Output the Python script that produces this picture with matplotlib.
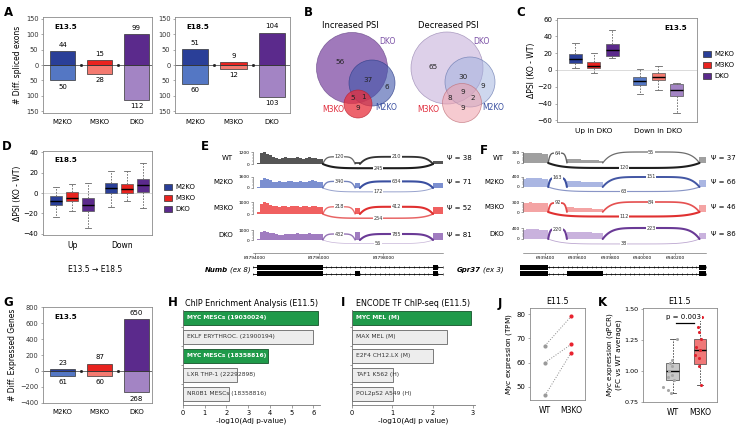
import numpy as np
import matplotlib.pyplot as plt
from matplotlib.patches import Circle, Patch

# ---------------- data ----------------
groups = ['M2KO', 'M3KO', 'DKO']
a135_up = [44, 15, 99]
a135_dn = [50, 28, 112]
a185_up = [51, 9, 104]
a185_dn = [60, 12, 103]

# venn counts
inc_counts = [56, 37, 6, 5, 1, 9]
dec_counts = [65, 30, 9, 9, 8, 2, 9]

# box stats (whislo, q1, med, q3, whishi)
c_up = [(2, 8, 13, 19, 32), (-4, 2, 5, 10, 20), (14, 17, 24, 31, 48)]
c_dn = [(-29, -18, -13, -8, 1), (-24, -12, -8, -3, 5), (-51, -31, -24, -17, -15)]
d_up = [(-23, -12, -8, -3, 6), (-18, -8, -5, 1, 9), (-34, -18, -12, -5, 10)]
d_dn = [(-14, 0, 5, 10, 21), (-8, 0, 4, 9, 21), (-15, 1, 8, 14, 29)]

g_up = [23, 87, 650]
g_dn = [61, 60, 268]

h_labels = ['MYC MESCs (19030024)', 'EKLF ERYTHROC. (21900194)', 'MYC MESCs (18358816)',
            'LXR THP-1 (22292898)', 'NR0B1 MESCs (18358816)']
h_vals = [6.2, 6.0, 3.9, 2.5, 2.1]
h_green = [True, False, True, False, False]

i_labels = ['MYC MEL (M)', 'MAX MEL (M)', 'E2F4 CH12.LX (M)', 'TAF1 K562 (H)', 'POL2pS2 A549 (H)']
i_vals = [2.95, 2.35, 2.02, 1.02, 1.02]
i_green = [True, False, False, False, False]

j_wt = [67, 60, 46.5]
j_m3 = [79, 67.5, 64]

k_wt_stats = (0.82, 0.93, 1.0, 1.065, 1.26)
k_m3_stats = (0.89, 1.055, 1.165, 1.255, 1.43)
k_wt_pts = [1.26, 1.09, 1.06, 1.04, 1.0, 0.97, 0.95, 0.93, 0.87, 0.85, 0.82]
k_m3_pts = [1.43, 1.35, 1.31, 1.26, 1.19, 1.17, 1.13, 1.10, 1.04, 0.89]
k_wt_jit = [0.15, -0.02, -0.1, -0.02, -0.15, -0.05, -0.2, 0.05, -0.38, -0.2, -0.07]
k_m3_jit = [0.08, -0.09, -0.05, 0.03, -0.15, 0.0, -0.18, -0.03, -0.05, 0.03]

tracks = ['WT', 'M2KO', 'M3KO', 'DKO']
# Numb (exon 8) sashimi
numb_ex1 = (83794080, 83796120)
numb_skip = (83797120, 83797270)
numb_last = (83799540, 83799850)
numb_ymax = [1200, 1600, 1000, 1000]
numb_cov1 = [
    [150, 1100, 1200, 1050, 900, 700, 650, 550, 600, 700, 650, 600, 650, 700, 600, 550, 650, 700, 600, 650, 550, 500],
    [200, 1200, 1450, 1300, 1100, 900, 850, 1000, 900, 800, 950, 1000, 850, 900, 1050, 900, 850, 1000, 1100, 950, 850, 800],
    [150, 850, 1000, 900, 750, 650, 700, 600, 650, 700, 600, 650, 700, 650, 600, 700, 650, 600, 700, 650, 600, 550],
    [150, 800, 950, 850, 750, 700, 650, 550, 500, 600, 650, 600, 650, 700, 650, 600, 650, 700, 650, 600, 650, 600]]
numb_cov_skip = [[250], [700], [500], [850]]
numb_cov_last = [[350], [700], [600], [700]]
numb_j1 = [120, 340, 218, 432]
numb_j2 = [210, 634, 412, 785]
numb_jskip = [245, 172, 254, 56]
numb_psi = ['Ψ = 38', 'Ψ = 71', 'Ψ = 52', 'Ψ = 81']

# Gpr37 (exon 3) sashimi
gpr_ex1 = (6939265, 6939420)
gpr_mid = (6939535, 6939755)
gpr_last = (6940350, 6940390)
gpr_ymax = [300, 400, 300, 400]
gpr_cov1 = [[260, 275, 280, 275, 270, 265, 255, 250],
            [330, 350, 355, 350, 345, 340, 335, 330],
            [270, 285, 290, 285, 280, 275, 270, 265],
            [340, 360, 365, 360, 350, 345, 340, 330]]
gpr_cov_mid = [[120, 110, 105, 100, 95, 90, 85, 80, 75, 60],
               [240, 230, 225, 220, 215, 210, 205, 200, 195, 190],
               [150, 140, 135, 130, 125, 115, 110, 105, 100, 95],
               [260, 255, 250, 250, 245, 240, 240, 235, 235, 230]]
gpr_cov_last = [[160], [260], [210], [210]]
gpr_j1 = [64, 163, 92, 220]
gpr_j2 = [55, 151, 84, 223]
gpr_jskip = [120, 63, 112, 38]
gpr_psi = ['Ψ = 37', 'Ψ = 66', 'Ψ = 46', 'Ψ = 86']

# ---------------- style ----------------
plt.rcParams['font.family'] = ['DejaVu Sans']
plt.rcParams['font.size'] = 5
plt.rcParams['axes.linewidth'] = 0.6
plt.rcParams['xtick.major.size'] = 1.8
plt.rcParams['ytick.major.size'] = 1.8
plt.rcParams['xtick.major.width'] = 0.5
plt.rcParams['ytick.major.width'] = 0.5
plt.rcParams['xtick.major.pad'] = 1.5
plt.rcParams['ytick.major.pad'] = 1.5

up_cols = ['#2a3f98', '#e8231f', '#5b2a8c']
dn_cols = ['#5477c4', '#f47a70', '#a384c4']
arc_cols = ['#1e1e1e', '#3a4fa0', '#e03030', '#6a3a96']
cov_e = ['#555555', '#7b8fd0', '#f06060', '#a07cc0']
cov_f = ['#a0a0a0', '#aab6e2', '#f4a4a4', '#c9b2dd']
frame = '#8a8a8a'

W, H = 740, 430
fig = plt.figure(figsize=(7.4, 4.3), dpi=100)


def axpx(x0, y0, x1, y1):
    return fig.add_axes([x0 / W, 1 - y1 / H, (x1 - x0) / W, (y1 - y0) / H])


def ftxt(x, y, s, **kw):
    return fig.text(x / W, 1 - y / H, s, **kw)


def set_frame(ax, col=frame):
    for s in ax.spines.values():
        s.set_color(col)


for lab, x, y in [('A', 8, 12), ('B', 308, 12), ('C', 521, 13), ('D', 7, 147), ('E', 205, 147),
                  ('F', 484, 150), ('G', 8, 303), ('H', 173, 303), ('I', 343, 303), ('J', 500, 303),
                  ('K', 602, 303)]:
    ftxt(x, y, lab, fontsize=8.5, fontweight='bold', ha='center', va='center')


# ---------------- A / G ----------------
def updown(ax, up, dn, ylim, yticks, stage, absfmt, off=2):
    x = np.arange(3)
    ax.bar(x, up, width=0.68, color=up_cols, edgecolor='#333333', lw=0.5)
    ax.bar(x, -np.array(dn), width=0.68, color=dn_cols, edgecolor='#333333', lw=0.5)
    ax.axhline(0, color='#333333', lw=0.5)
    ax.plot([0.5, 1.5], [0, 0], ls='none', marker='s', ms=1.0, color='#222222')
    for i in range(3):
        ax.annotate(str(up[i]), (i, up[i]), xytext=(0, 2.5), textcoords='offset points',
                    ha='center', va='bottom', fontsize=5)
        ax.annotate(str(dn[i]), (i, -dn[i]), xytext=(0, -2.5), textcoords='offset points',
                    ha='center', va='top', fontsize=5)
    ax.set_ylim(*ylim)
    ax.set_yticks(yticks)
    if absfmt:
        ax.set_yticklabels([str(abs(t)) for t in yticks])
    ax.set_xlim(-0.53, 2.42)
    ax.set_xticks(x)
    ax.set_xticklabels(groups)
    ax.tick_params(axis='x', length=0, pad=4)
    ax.tick_params(axis='y', colors='#333333', labelsize=4.8)
    ax.tick_params(axis='y', color=frame)
    ax.text(0.1, 0.93, stage, transform=ax.transAxes, fontweight='bold', fontsize=5.2, va='top')
    set_frame(ax)


axA1 = axpx(43, 17, 152, 113)
updown(axA1, a135_up, a135_dn, (-155, 155), [-150, -100, -50, 0, 50, 100, 150], 'E13.5', True)
axA1.set_ylabel('# Diff. spliced exons', fontsize=5.5, labelpad=3)
axA2 = axpx(175, 17, 290, 113)
updown(axA2, a185_up, a185_dn, (-155, 155), [-150, -100, -50, 0, 50, 100, 150], 'E18.5', True)
axA2.set_xlim(-0.52, 2.47)

axG = axpx(43, 307, 152, 403)
updown(axG, g_up, g_dn, (-405, 805), [-400, -200, 0, 200, 400, 600, 800], 'E13.5', False)
axG.set_ylabel('# Diff. Expressed Genes', fontsize=5.5, labelpad=2)

# ---------------- B venn ----------------
axB = axpx(300, 0, 500, 130)
axB.set_xlim(300, 500)
axB.set_ylim(130, 0)
axB.axis('off')
axB.text(350, 25, 'Increased PSI', ha='center', va='center', fontsize=6)
axB.text(448, 25, 'Decreased PSI', ha='center', va='center', fontsize=6)

inc_circles = [((352, 68), 35.5, '#8f62b0', 0.85, '#6b4a8a'),
               ((372, 83), 23, '#3f55aa', 0.6, '#2f3f88'),
               ((358, 104), 14, '#e8303c', 0.75, '#b82030')]
dec_circles = [((447, 68), 36, '#ddd0e9', 1.0, '#9a88b4'),
               ((470, 82), 25, '#9fb0de', 0.5, '#6a7ab0'),
               ((462, 103), 19.5, '#f0a0aa', 0.55, '#c07078')]
for (c, r, fc, al, ec) in inc_circles + dec_circles:
    axB.add_patch(Circle(c, r, fc=fc, alpha=al, ec='none'))
    axB.add_patch(Circle(c, r, fill=False, ec=ec, lw=0.5, alpha=0.8))

inc_pos = [(340, 62), (368, 80), (387, 87), (353, 98), (363, 97), (358, 108)]
for n, (x, y) in zip(inc_counts, inc_pos):
    axB.text(x, y, str(n), ha='center', va='center', fontsize=5.2, color='#222222')
dec_pos = [(433, 67), (463, 77), (483, 86), (463, 92), (450, 98), (473, 98), (463, 108)]
for n, (x, y) in zip(dec_counts, dec_pos):
    axB.text(x, y, str(n), ha='center', va='center', fontsize=5.2, color='#222222')
axB.text(387, 42, 'DKO', ha='center', va='center', fontsize=5.5, color='#7a4fa5')
axB.text(386, 107, 'M2KO', ha='center', va='center', fontsize=5.5, color='#3a4fa0')
axB.text(333, 109, 'M3KO', ha='center', va='center', fontsize=5.5, color='#e02a3a')
axB.text(481, 42, 'DKO', ha='center', va='center', fontsize=5.5, color='#7a4fa5')
axB.text(493, 107, 'M2KO', ha='center', va='center', fontsize=5.5, color='#3a4fa0')
axB.text(428, 109, 'M3KO', ha='center', va='center', fontsize=5.5, color='#e02a3a')


# ---------------- C / D boxplots ----------------
def boxes(ax, up, dn, upc, dnc, off, bw):
    stats, pos, cols = [], [], []
    for gi, (data, cl) in enumerate([(up, upc), (dn, dnc)]):
        for k in range(3):
            wl, q1, md, q3, wh = data[k]
            stats.append(dict(whislo=wl, q1=q1, med=md, q3=q3, whishi=wh, fliers=[]))
            pos.append(gi + 1 + (k - 1) * off)
            cols.append(cl[k])
    bp = ax.bxp(stats, positions=pos, widths=bw, patch_artist=True, showfliers=False,
                boxprops=dict(lw=0.5, ec='#555555'),
                whiskerprops=dict(ls=(0, (2, 1.5)), lw=0.6, color='#666666'),
                capprops=dict(lw=0.6, color='#666666'),
                medianprops=dict(color='black', lw=1.0), manage_ticks=False)
    for p, c in zip(bp['boxes'], cols):
        p.set_facecolor(c)
    ax.axhline(0, color='#cccccc', lw=0.5, zorder=0)
    set_frame(ax)
    ax.tick_params(axis='x', length=0, pad=4)
    ax.tick_params(axis='y', color=frame)


axC = axpx(557, 18, 697, 122)
boxes(axC, c_up, c_dn, up_cols, dn_cols, 0.285, 0.2)
axC.set_xlim(0.43, 2.6)
axC.set_ylim(-62, 62)
axC.set_yticks([-60, -40, -20, 0, 20, 40, 60])
axC.set_xticks([1, 2])
axC.set_xticklabels(['Up in DKO', 'Down in DKO'], fontsize=5.3)
axC.set_ylabel('ΔPSI (KO - WT)', fontsize=5.5, labelpad=1)
axC.text(0.93, 0.93, 'E13.5', transform=axC.transAxes, ha='right', va='top', fontweight='bold', fontsize=5.2)
fig.legend([Patch(fc=c, ec='#333333', lw=0.5) for c in up_cols], groups, loc='center left',
           bbox_to_anchor=(697 / W, 1 - 65 / H), frameon=False, fontsize=5, handlelength=1.1,
           handleheight=1.1, labelspacing=0.6, handletextpad=0.5)

axD = axpx(43, 151, 152, 235)
boxes(axD, d_up, d_dn, up_cols, up_cols, 0.29, 0.22)
axD.set_xlim(0.47, 2.45)
axD.set_ylim(-41, 41)
axD.set_yticks([-40, -20, 0, 20, 40])
axD.set_xticks([1, 1.9])
axD.set_xticklabels(['Up', 'Down'], fontsize=5.5)
axD.set_ylabel('ΔPSI (KO - WT)', fontsize=5.5, labelpad=1)
axD.text(0.1, 0.93, 'E18.5', transform=axD.transAxes, va='top', fontweight='bold', fontsize=5.2)
ftxt(95, 270, 'E13.5 → E18.5', ha='center', va='center', fontsize=5.5)
fig.legend([Patch(fc=c, ec='#333333', lw=0.5) for c in up_cols], groups, loc='center left',
           bbox_to_anchor=(158 / W, 1 - 198 / H), frameon=False, fontsize=5, handlelength=1.1,
           handleheight=1.1, labelspacing=0.6, handletextpad=0.5)


# ---------------- E / F sashimi ----------------
def arc(ax, x0, x1, h, n, color, lw, alpha):
    t = np.linspace(0, 1, 100)
    y = h * (1 - np.abs(2 * t - 1) ** 6)
    ax.plot(x0 + (x1 - x0) * t, y, color=color, lw=lw, alpha=alpha, solid_capstyle='round', zorder=3)
    ax.text((x0 + x1) / 2, h, str(n), ha='center', va='center', fontsize=3.6, color='#333333', zorder=4,
            bbox=dict(boxstyle='square,pad=0.08', fc='white', ec='none'))


def sashimi(x0, x1, xlim, rows, ymaxs, ex, covs, juncs, psis, covcol, name_x, psi_x, top_h, bot_h):
    (e1, em, el) = ex
    for k in range(4):
        top, zero = rows[k]
        ymax = ymaxs[k]
        v = ymax / (zero - top)
        ax = axpx(x0, top - 3, x1, zero + 8)
        ax.set_xlim(*xlim)
        ax.set_ylim(-8 * v, ymax + 3 * v)
        for (a, b), c in zip([e1, em, el], [covs[0][k], covs[1][k], covs[2][k]]):
            ax.stairs(c, np.linspace(a, b, len(c) + 1), fill=True, color=covcol[k], lw=0)
        j1, j2, js = juncs[0][k], juncs[1][k], juncs[2][k]
        cmax = max(j1, j2, js)
        for (a, b, n, h) in [(e1[1], em[0], j1, top_h[0] * ymax), (em[1], el[0], j2, top_h[1] * ymax),
                             (e1[1], el[0], js, -bot_h * ymax)]:
            arc(ax, a, b, h, n, arc_cols[k], 0.4 + 1.1 * n / cmax, 0.35 + 0.65 * n / cmax)
        for s in ['top', 'right', 'bottom']:
            ax.spines[s].set_visible(False)
        ax.spines['left'].set_bounds(0, ymax)
        ax.spines['left'].set_color('#555555')
        ax.spines['left'].set_linewidth(0.4)
        ax.set_xticks([])
        ax.set_yticks([0, ymax])
        ax.set_yticks(np.linspace(0, ymax, 5), minor=True)
        ax.tick_params(axis='y', labelsize=3.2, length=1.3, width=0.4, pad=1, color='#555555')
        ax.tick_params(axis='y', which='minor', length=0.8, width=0.3, color='#555555')
        ax.patch.set_alpha(0)
        ym = (top + zero) / 2
        ftxt(name_x, ym, tracks[k], ha='right', va='center', fontsize=5)
        ftxt(psi_x, ym, psis[k], ha='left', va='center', fontsize=5)


e_rows = [(152, 164), (177, 188), (202, 214), (230, 240)]
numb_xlim = (83793950, 83799850)
sashimi(253, 443, numb_xlim, e_rows, numb_ymax, (numb_ex1, numb_skip, numb_last),
        (numb_cov1, numb_cov_skip, numb_cov_last), (numb_j1, numb_j2, numb_jskip), numb_psi,
        cov_e, 233, 447, (0.6, 0.6), 0.35)

f_rows = [(152, 163), (177, 187), (202, 212), (228, 239)]
gpr_xlim = (6939265, 6940390)
sashimi(523, 706, gpr_xlim, f_rows, gpr_ymax, (gpr_ex1, gpr_mid, gpr_last),
        (gpr_cov1, gpr_cov_mid, gpr_cov_last), (gpr_j1, gpr_j2, gpr_jskip), gpr_psi,
        cov_f, 504, 711, (0.9, 1.0), 0.45)


def gaxis(x0, x1, xlim, ticks):
    ax = axpx(x0, 246, x1, 253)
    ax.set_xlim(*xlim)
    for s in ['top', 'right', 'left']:
        ax.spines[s].set_visible(False)
    ax.spines['bottom'].set_color('#555555')
    ax.spines['bottom'].set_linewidth(0.4)
    ax.set_yticks([])
    ax.set_xticks(ticks)
    ax.set_xticklabels([str(t) for t in ticks])
    ax.tick_params(axis='x', labelsize=3.2, length=1.3, width=0.4, pad=1, color='#555555')
    ax.patch.set_alpha(0)


gaxis(253, 443, numb_xlim, [83794000, 83796000, 83798000])
gaxis(523, 706, gpr_xlim, [6939400, 6939600, 6939800, 6940000, 6940200])


def gene_model(x0, x1, xlim, rows):
    ax = axpx(x0, 264, x1, 277)
    ax.set_xlim(*xlim)
    ax.set_ylim(0, 2)
    ax.axis('off')
    for y, exons in zip([1.5, 0.5], rows):
        ax.plot(xlim, [y, y], color='black', lw=0.6)
        marks = np.linspace(xlim[0], xlim[1], 40)
        ax.plot(marks, np.full(40, y), ls='none', marker='|', ms=2, mew=0.4, color='black')
        for (a, b, hh) in exons:
            ax.fill_between([a, b], y - hh, y + hh, color='black', lw=0)


gene_model(253, 443, numb_xlim,
           [[(numb_ex1[0], numb_ex1[1], 0.42), (numb_last[0], 83799700, 0.42)],
            [(numb_ex1[0], numb_ex1[1], 0.42), (numb_skip[0], numb_skip[1], 0.42),
             (numb_last[0], 83799700, 0.42)]])
gene_model(520, 706, (6939247, 6940390),
           [[(6939247, gpr_ex1[1], 0.42), (gpr_last[0], gpr_last[1], 0.42)],
            [(6939247, gpr_ex1[1], 0.42), (gpr_mid[0], gpr_mid[1], 0.42), (gpr_last[0], gpr_last[1], 0.42)]])
ftxt(228, 270, 'Numb', ha='right', va='center', fontsize=5, fontstyle='italic', fontweight='bold')
ftxt(230, 270, '(ex 8)', ha='left', va='center', fontsize=5, fontstyle='italic')
ftxt(481, 270, 'Gpr37', ha='right', va='center', fontsize=5, fontstyle='italic', fontweight='bold')
ftxt(483, 270, '(ex 3)', ha='left', va='center', fontsize=5, fontstyle='italic')


# ---------------- H / I enrichment ----------------
def enrich(ax, labels, vals, green, xmax, xticks, title, xlabel):
    y = np.arange(len(vals))
    fc = ['#1f9a4a' if g else '#ededed' for g in green]
    ec = ['#14532a' if g else '#666666' for g in green]
    ax.barh(y, vals, height=0.72, color=fc, edgecolor=ec, lw=0.6)
    for i in range(len(vals)):
        ax.text(0.03 * xmax, i, labels[i], va='center', ha='left', fontsize=4.3,
                color='white' if green[i] else '#333333', fontweight='bold' if green[i] else 'normal')
    ax.set_ylim(4.58, -0.42)
    ax.set_xlim(0, xmax)
    ax.set_xticks(xticks)
    ax.set_yticks([0.5, 1.5, 2.5, 3.5])
    ax.set_yticklabels([])
    for s in ['top', 'right']:
        ax.spines[s].set_visible(False)
    set_frame(ax, '#777777')
    ax.tick_params(color='#777777', labelsize=4.8)
    ax.set_title(title, fontsize=5.8, pad=3)
    ax.set_xlabel(xlabel, fontsize=5.3, labelpad=1.5)


axH = axpx(183, 310, 320, 405)
enrich(axH, h_labels, h_vals, h_green, 6.3, [0, 1, 2, 3, 4, 5, 6],
       'ChIP Enrichment Analysis (E11.5)', '-log10(Adj p-value)')
axI = axpx(352, 310, 475, 405)
enrich(axI, i_labels, i_vals, i_green, 3.05, [0, 1, 2, 3],
       'ENCODE TF ChIP-seq (E11.5)', '-log10(Adj p value)')

# ---------------- J ----------------
axJ = axpx(530, 308, 585, 400)
for a, b in zip(j_wt, j_m3):
    axJ.plot([0, 1], [a, b], ls=':', color='#888888', lw=0.7)
axJ.scatter(np.zeros(len(j_wt)), j_wt, s=9, color='#9a9a9a', zorder=3, lw=0)
axJ.scatter(np.ones(len(j_m3)), j_m3, s=9, color='#e8232f', zorder=3, lw=0)
axJ.set_xlim(-0.58, 1.54)
axJ.set_ylim(44.6, 82.5)
axJ.set_yticks([50, 60, 70, 80])
axJ.set_xticks([0, 1])
axJ.set_xticklabels(['WT', 'M3KO'], fontsize=5.5)
axJ.set_ylabel(r'$\it{Myc}$ expression (TPM)', fontsize=5.3, labelpad=1.5)
axJ.set_title('E11.5', fontsize=5.8, pad=3)
set_frame(axJ)
axJ.tick_params(color=frame)
axJ.tick_params(axis='x', length=0, pad=4)

# ---------------- K ----------------
axK = axpx(643, 308, 717, 402)
kst = []
for s in [k_wt_stats, k_m3_stats]:
    kst.append(dict(whislo=s[0], q1=s[1], med=s[2], q3=s[3], whishi=s[4], fliers=[]))
bp = axK.bxp(kst, positions=[0, 1], widths=0.48, patch_artist=True, showfliers=False,
             boxprops=dict(lw=0.5, ec='#444444'),
             whiskerprops=dict(ls=(0, (2, 1.5)), lw=0.6, color='#444444'),
             capprops=dict(lw=0.6, color='#444444'),
             medianprops=dict(color='black', lw=1.0), manage_ticks=False)
bp['boxes'][0].set_facecolor('#c9c9c9')
bp['boxes'][1].set_facecolor('#f07878')
axK.scatter(np.array(k_wt_jit), k_wt_pts, s=5, color='#a8a8a8', zorder=3, lw=0)
axK.scatter(1 + np.array(k_m3_jit), k_m3_pts, s=5, color='#e0202c', zorder=3, lw=0)
axK.plot([0.1, 0.78], [1.385, 1.385], color='black', lw=0.9)
axK.text(0.4, 1.43, 'p = 0.003', ha='center', va='center', fontsize=5,
         bbox=dict(boxstyle='square,pad=0.05', fc='white', ec='none'))
axK.set_xlim(-1.11, 1.63)
axK.set_ylim(0.75, 1.505)
axK.set_yticks([0.75, 1.0, 1.25, 1.5])
axK.set_yticklabels(['0.75', '1.00', '1.25', '1.50'])
axK.set_xticks([0, 1])
axK.set_xticklabels(['WT', 'M3KO'], fontsize=5.5)
axK.set_ylabel(r'$\it{Myc}$ expression (qPCR)' + '\n(FC vs WT average)', fontsize=5.2, labelpad=1.5)
axK.set_title('E11.5', fontsize=5.8, pad=3)
set_frame(axK)
axK.tick_params(color=frame, labelsize=4.6)
axK.tick_params(axis='x', length=0, pad=4, labelsize=5.5)

fig.savefig('out.png', dpi=100)
